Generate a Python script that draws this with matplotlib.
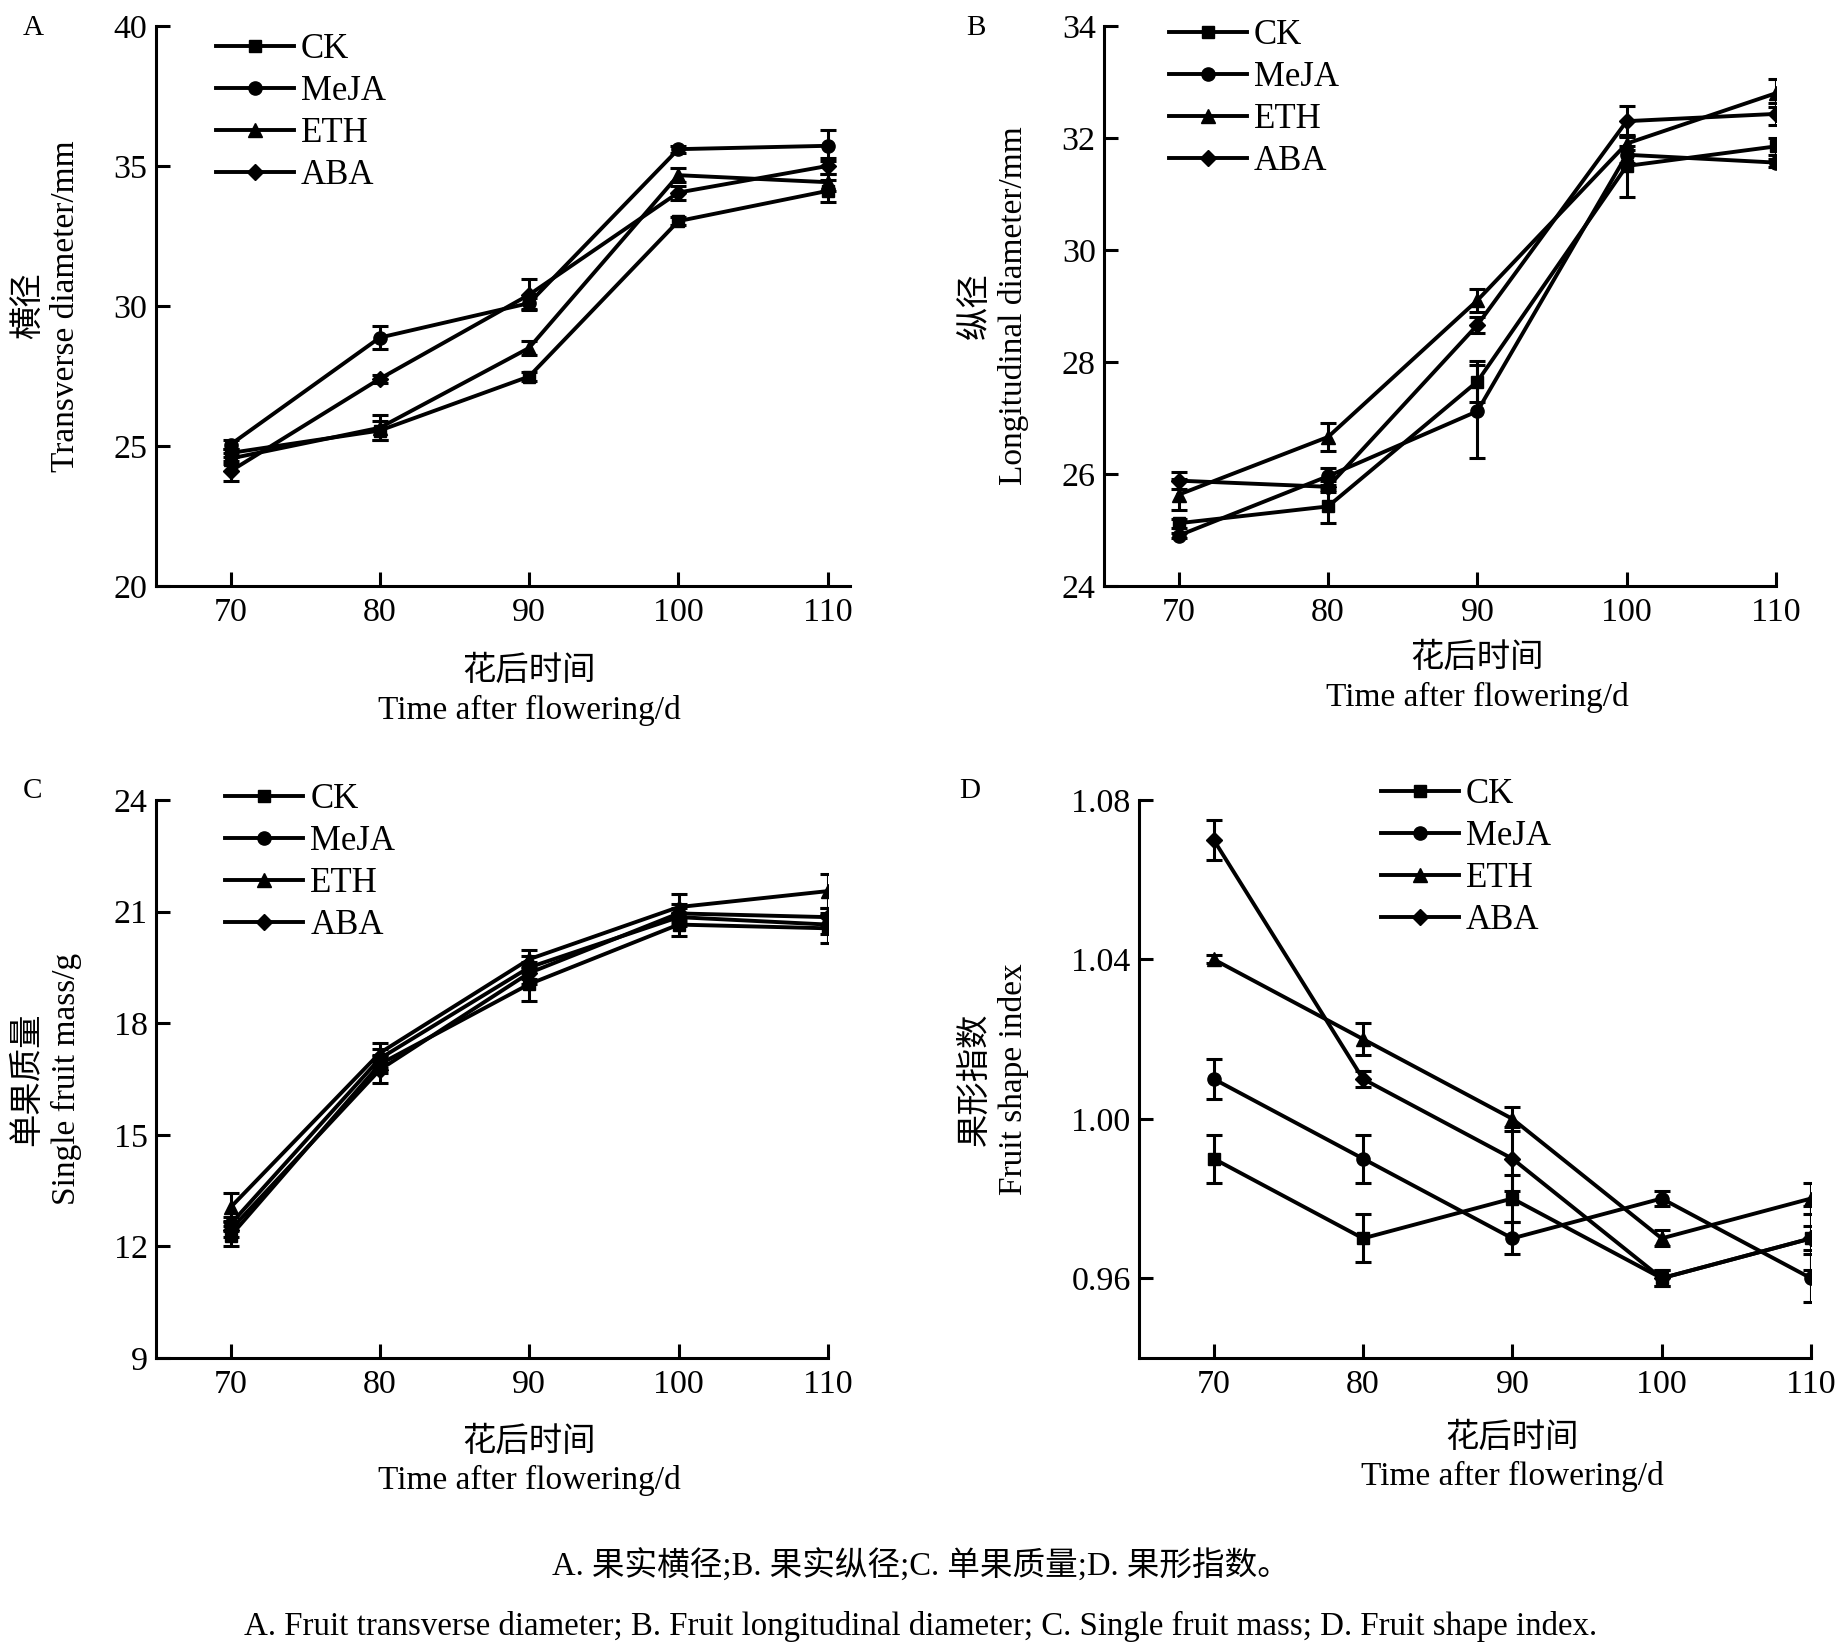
import matplotlib
matplotlib.use("Agg")
import matplotlib.pyplot as plt
import numpy as np

plt.rcParams['font.family'] = ['Liberation Serif', 'Noto Sans CJK SC', 'DejaVu Sans']
plt.rcParams['axes.unicode_minus'] = False

days = [70, 80, 90, 100, 110]
series = ['CK', 'MeJA', 'ETH', 'ABA']
markers = {'CK': 's', 'MeJA': 'o', 'ETH': '^', 'ABA': 'D'}
msizes = {'CK': 8.5, 'MeJA': 9.5, 'ETH': 9.5, 'ABA': 8.5}

# Panel A: transverse diameter (mm)
A_mean = {
    'CK':   [24.75, 25.55, 27.48, 33.03, 34.11],
    'MeJA': [25.05, 28.87, 30.10, 35.60, 35.72],
    'ETH':  [24.55, 25.65, 28.50, 34.67, 34.42],
    'ABA':  [24.10, 27.40, 30.40, 34.05, 35.00],
}
A_err = {
    'CK':   [0.15, 0.35, 0.15, 0.15, 0.40],
    'MeJA': [0.15, 0.42, 0.20, 0.12, 0.55],
    'ETH':  [0.20, 0.45, 0.25, 0.25, 0.30],
    'ABA':  [0.35, 0.15, 0.55, 0.25, 0.30],
}
# Panel B: longitudinal diameter (mm)
B_mean = {
    'CK':   [25.12, 25.42, 27.65, 31.50, 31.85],
    'MeJA': [24.90, 25.96, 27.12, 31.70, 31.56],
    'ETH':  [25.63, 26.66, 29.10, 31.90, 32.80],
    'ABA':  [25.88, 25.77, 28.66, 32.30, 32.43],
}
B_err = {
    'CK':   [0.08, 0.30, 0.37, 0.55, 0.15],
    'MeJA': [0.05, 0.15, 0.83, 0.15, 0.07],
    'ETH':  [0.28, 0.25, 0.20, 0.12, 0.25],
    'ABA':  [0.15, 0.10, 0.15, 0.27, 0.20],
}
# Panel C: single fruit mass (g)
C_mean = {
    'CK':   [12.28, 16.90, 19.05, 20.65, 20.55],
    'MeJA': [12.60, 17.05, 19.50, 20.85, 20.65],
    'ETH':  [13.05, 17.20, 19.72, 21.12, 21.55],
    'ABA':  [12.45, 16.75, 19.35, 20.95, 20.85],
}
C_err = {
    'CK':   [0.27, 0.25, 0.45, 0.30, 0.40],
    'MeJA': [0.20, 0.25, 0.30, 0.25, 0.25],
    'ETH':  [0.38, 0.27, 0.25, 0.35, 0.45],
    'ABA':  [0.20, 0.37, 0.30, 0.25, 0.25],
}
# Panel D: fruit shape index
D_mean = {
    'CK':   [0.990, 0.970, 0.980, 0.960, 0.970],
    'MeJA': [1.010, 0.990, 0.970, 0.980, 0.960],
    'ETH':  [1.040, 1.020, 1.000, 0.970, 0.980],
    'ABA':  [1.070, 1.010, 0.990, 0.960, 0.970],
}
D_err = {
    'CK':   [0.006, 0.006, 0.006, 0.002, 0.008],
    'MeJA': [0.005, 0.006, 0.004, 0.002, 0.006],
    'ETH':  [0.001, 0.004, 0.003, 0.002, 0.004],
    'ABA':  [0.005, 0.002, 0.008, 0.002, 0.003],
}

W, H = 1841, 1644
panels = [
    dict(letter='A', mean=A_mean, err=A_err, ylim=(20, 40), yticks=[20, 25, 30, 35, 40],
         yfmt='{:.0f}', xlim=(65, 111.5), ylabel='横径\nTransverse diameter/mm',
         rect=[0.0847, 0.6436, 0.377, 0.3406], leg=(0.086, 0.987), ylab_x=-0.157,
         xlab_y=-0.1875, letter_xy=(33, 28)),
    dict(letter='B', mean=B_mean, err=B_err, ylim=(24, 34), yticks=[24, 26, 28, 30, 32, 34],
         yfmt='{:.0f}', xlim=(65, 110), ylabel='纵径\nLongitudinal diameter/mm',
         rect=[0.5997, 0.6436, 0.365, 0.3406], leg=(0.096, 1.012), ylab_x=-0.163,
         xlab_y=-0.164, letter_xy=(976, 28)),
    dict(letter='C', mean=C_mean, err=C_err, ylim=(9, 24), yticks=[9, 12, 15, 18, 21, 24],
         yfmt='{:.0f}', xlim=(65, 110), ylabel='单果质量\nSingle fruit mass/g',
         rect=[0.0847, 0.174, 0.365, 0.3394], leg=(0.103, 1.031), ylab_x=-0.162,
         xlab_y=-0.1855, letter_xy=(33, 791)),
    dict(letter='D', mean=D_mean, err=D_err, ylim=(0.94, 1.08), yticks=[0.96, 1.00, 1.04, 1.08],
         yfmt='{:.2f}', xlim=(65, 110), ylabel='果形指数\nFruit shape index',
         rect=[0.6187, 0.174, 0.365, 0.3394], leg=(0.36, 1.039), ylab_x=-0.216,
         xlab_y=-0.178, letter_xy=(970, 791)),
]

fig = plt.figure(figsize=(W / 100, H / 100), dpi=100)
TICK_FS = 24.5
LAB_FS = 24
LEG_FS = 25

for p in panels:
    ax = fig.add_axes(p['rect'])
    lines = []
    for s in series:
        cont = ax.errorbar(days, p['mean'][s], yerr=p['err'][s], color='black', lw=2.8,
                           marker=markers[s], ms=msizes[s], mfc='black', mec='black',
                           capsize=6, capthick=2.2, elinewidth=2.2, label=s)
        lines.append(cont[0])
    ax.set_xlim(*p['xlim'])
    ax.set_ylim(*p['ylim'])
    ax.set_xticks(days)
    ax.set_xticklabels([str(d) for d in days])
    ax.set_yticks(p['yticks'])
    ax.set_yticklabels([p['yfmt'].format(v) for v in p['yticks']])
    for side in ['top', 'right']:
        ax.spines[side].set_visible(False)
    for side in ['left', 'bottom']:
        ax.spines[side].set_linewidth(2.2)
    ax.tick_params(direction='in', length=10, width=2.2, labelsize=TICK_FS, pad=8)
    ax.tick_params(axis='y', pad=6)
    ax.set_ylabel(p['ylabel'], fontsize=LAB_FS, va='center', ha='center', linespacing=1.3)
    ax.yaxis.set_label_coords(p['ylab_x'], 0.5)
    xfrac = (90 - p['xlim'][0]) / (p['xlim'][1] - p['xlim'][0])
    ax.set_xlabel('花后时间\nTime after flowering/d', fontsize=LAB_FS, va='center', ha='center',
                  linespacing=1.3)
    ax.xaxis.set_label_coords(xfrac, p['xlab_y'])
    ax.legend(lines, series, loc='upper left', bbox_to_anchor=p['leg'], frameon=False,
              fontsize=LEG_FS, handlelength=2.25, handletextpad=0.2, labelspacing=0.26,
              borderpad=0, borderaxespad=0)
    lx, ly = p['letter_xy']
    fig.text(lx / W, 1 - ly / H, p['letter'], fontsize=21, ha='center', va='center')

fig.text(0.5, 1 - 1566 / H, 'A. 果实横径;B. 果实纵径;C. 单果质量;D. 果形指数。',
         fontsize=23.5, ha='center', va='center')
fig.text(0.5, 1 - 1626 / H,
         'A. Fruit transverse diameter; B. Fruit longitudinal diameter; C. Single fruit mass; D. Fruit shape index.',
         fontsize=23.7, ha='center', va='center')

fig.savefig('out.png', dpi=100)
